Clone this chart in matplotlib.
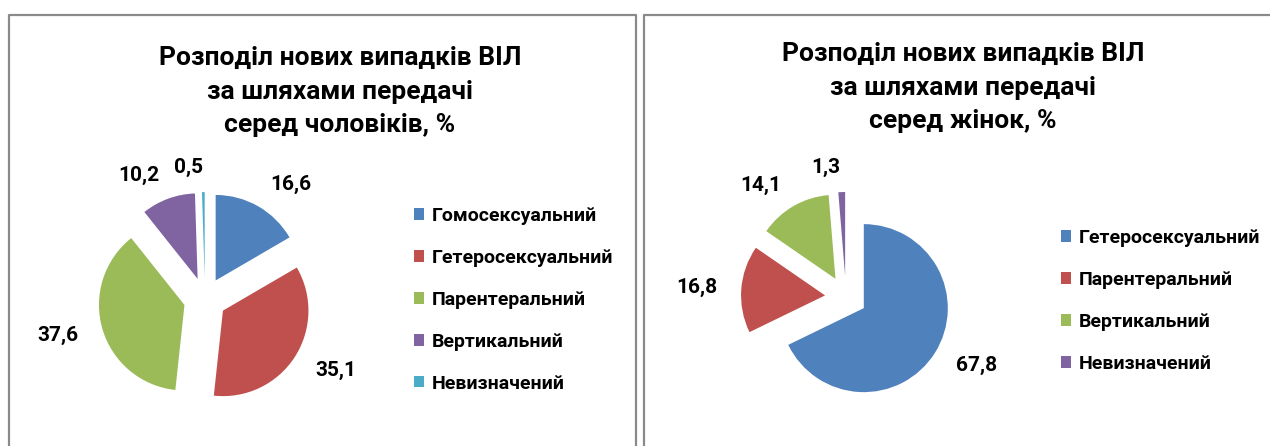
import matplotlib
matplotlib.use('Agg')
import matplotlib.pyplot as plt

plt.rcParams['font.family'] = ['Roboto', 'DejaVu Sans']

W, H = 1270, 446

# Дані: чоловіки
men_names = ['Гомосексуальний', 'Гетеросексуальний', 'Парентеральний', 'Вертикальний', 'Невизначений']
men_values = [16.6, 35.1, 37.6, 10.2, 0.5]
men_colors = ['#4F81BD', '#C0504D', '#9BBB59', '#8064A2', '#4BACC6']

# Дані: жінки
women_names = ['Гетеросексуальний', 'Парентеральний', 'Вертикальний', 'Невизначений']
women_values = [67.8, 16.8, 14.1, 1.3]
women_colors = ['#4F81BD', '#C0504D', '#9BBB59', '#8064A2']

title_men = 'Розподіл нових випадків ВІЛ\nза шляхами передачі\nсеред чоловіків, %'
title_women = 'Розподіл нових випадків ВІЛ\nза шляхами передачі\nсеред жінок, %'

fig = plt.figure(figsize=(W / 100, H / 100), dpi=100)
fig.patch.set_facecolor('white')

# фонова вісь у пікселях для рамок і заголовків
bg = fig.add_axes([0, 0, 1, 1])
bg.set_xlim(0, W)
bg.set_ylim(H, 0)
bg.axis('off')
bg.plot([9, 9, 636, 636], [H + 5, 15, 15, H + 5], color='#8a8a8a', lw=1.6)
bg.plot([644, 644, W + 5], [H + 5, 15, 15], color='#8a8a8a', lw=1.6)


def panel(values, names, colors, title, tx, ty, cx, cy, r, lx, ly):
    bg.text(tx, ty, title, ha='center', va='top', fontsize=19, fontweight='bold',
            linespacing=1.5)
    ax = fig.add_axes([(cx - 2 * r) / W, (H - cy - 2 * r) / H, 4 * r / W, 4 * r / H])
    labels = [f'{v:.1f}'.replace('.', ',') for v in values]
    wedges, texts = ax.pie(values, colors=colors, startangle=90, counterclock=False,
                           explode=[0.25] * len(values), labels=labels, labeldistance=1.29,
                           textprops=dict(fontsize=15, fontweight='bold'))
    ax.set_xlim(-2, 2)
    ax.set_ylim(-2, 2)
    fig.legend(wedges, names, loc='upper left', bbox_to_anchor=(lx / W, 1 - ly / H),
               frameon=False, borderpad=0, borderaxespad=0, handlelength=0.52,
               handleheight=0.52, handletextpad=0.4, labelspacing=1.23,
               prop=dict(size=14, weight='bold'))


panel(men_values, men_names, men_colors, title_men, 340, 46, 205, 299, 85.5, 414, 207)
panel(women_values, women_names, women_colors, title_women, 963, 42, 846, 297, 84, 1061, 229)

fig.savefig('out.png', dpi=100, facecolor='white')
